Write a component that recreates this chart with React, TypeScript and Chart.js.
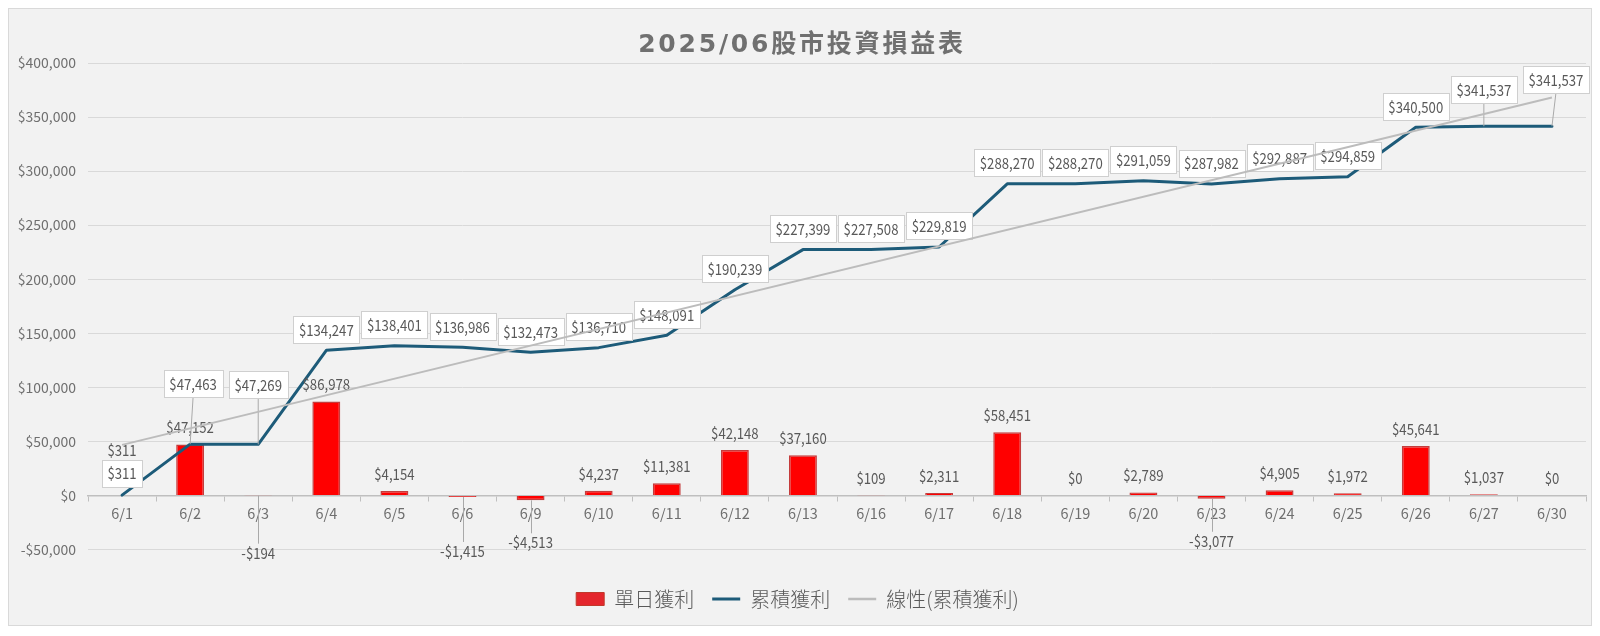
import React, { useEffect, useRef } from 'react';
import { Chart, registerables } from 'chart.js';

Chart.register(...registerables);

// --- data ---
const chartTitle = '2025/06股市投資損益表';

const dates = [
  '6/1', '6/2', '6/3', '6/4', '6/5', '6/6', '6/9', '6/10', '6/11', '6/12', '6/13',
  '6/16', '6/17', '6/18', '6/19', '6/20', '6/23', '6/24', '6/25', '6/26', '6/27', '6/30',
];

const dailyProfit = [
  311, 47152, -194, 86978, 4154, -1415, -4513, 4237, 11381, 42148, 37160,
  109, 2311, 58451, 0, 2789, -3077, 4905, 1972, 45641, 1037, 0,
];

const cumulativeProfit = [
  311, 47463, 47269, 134247, 138401, 136986, 132473, 136710, 148091, 190239, 227399,
  227508, 229819, 288270, 288270, 291059, 287982, 292887, 294859, 340500, 341537, 341537,
];

// linear trendline: value at the first and last date
const trendValues = [46800, 368100];

const seriesNames = ['單日獲利', '累積獲利', '線性(累積獲利)'];

// --- label placement (distance of label centre from the mark, px) ---
const dailyGapDefault = 17;
const dailyGapOverrides: Record<number, number> = { 0: 45, 2: 57, 5: 54, 6: 42, 16: 42 };
const dailyLeaders = [2, 5, 6, 16];

const boxGapDefault = 21;
const boxGapOverrides: Record<number, number> = { 0: 22, 1: 61, 2: 60, 20: 37, 21: 47 };
const boxShiftX: Record<number, number> = { 1: 3, 21: 4 };
const boxLeaders = [1, 2, 20, 21];

const TEXT = '#595959';
const AXIS_TEXT = '#6f6f6f';
const FONT = '"Noto Sans CJK TC", sans-serif';
const NARROW = 0.85; // the sheet's number font is narrower than Noto

const money = (v: number) => (v < 0 ? '-$' : '$') + Math.abs(v).toLocaleString('en-US');

const narrowText = (ctx: CanvasRenderingContext2D, text: string, x: number, y: number) => {
  ctx.save();
  ctx.translate(x, y);
  ctx.scale(NARROW, 1);
  ctx.fillText(text, 0, 0);
  ctx.restore();
};

const valueLabels = {
  id: 'valueLabels',
  afterDatasetDraw(chart: any, args: any) {
    if (args.index !== 1) return;
    const ctx: CanvasRenderingContext2D = chart.ctx;
    const bars = chart.getDatasetMeta(0).data;
    const points = chart.getDatasetMeta(1).data;

    ctx.save();
    ctx.font = `15.5px ${FONT}`;
    ctx.textAlign = 'center';
    ctx.textBaseline = 'middle';
    ctx.lineWidth = 1;

    // daily profit labels
    bars.forEach((bar: any, i: number) => {
      const v = dailyProfit[i];
      const gap = dailyGapOverrides[i] ?? dailyGapDefault;
      const cy = v < 0 ? bar.y + gap : bar.y - gap;
      if (dailyLeaders.includes(i)) {
        ctx.strokeStyle = '#a9a9a9';
        ctx.beginPath();
        ctx.moveTo(Math.round(bar.x) + 0.5, bar.y);
        ctx.lineTo(Math.round(bar.x) + 0.5, cy - 9);
        ctx.stroke();
      }
      ctx.fillStyle = TEXT;
      narrowText(ctx, money(v), bar.x, cy);
    });

    // cumulative labels in boxes
    points.forEach((pt: any, i: number) => {
      const text = money(cumulativeProfit[i]);
      const gap = boxGapOverrides[i] ?? boxGapDefault;
      const cx = pt.x + (boxShiftX[i] ?? 0);
      const cy = pt.y - gap;
      const w = Math.round(ctx.measureText(text).width * NARROW + 11);
      const h = 27;
      if (boxLeaders.includes(i)) {
        ctx.strokeStyle = '#a9a9a9';
        ctx.beginPath();
        ctx.moveTo(cx, cy + h / 2);
        ctx.lineTo(pt.x, pt.y);
        ctx.stroke();
      }
      const left = Math.round(cx - w / 2);
      const top = Math.round(cy - h / 2);
      ctx.fillStyle = '#ffffff';
      ctx.strokeStyle = '#cfcfcf';
      ctx.fillRect(left, top, w, h);
      ctx.strokeRect(left + 0.5, top + 0.5, w, h);
      ctx.fillStyle = TEXT;
      narrowText(ctx, text, cx, cy + 0.5);
    });
    ctx.restore();
  },
};

const sheetTitle = {
  id: 'sheetTitle',
  afterDraw(chart: any) {
    const ctx: any = chart.ctx;
    ctx.save();
    ctx.font = 'bold 25px "DejaVu Sans", "Noto Sans CJK TC", sans-serif';
    ctx.letterSpacing = '2.8px';
    ctx.fillStyle = '#707070';
    ctx.textAlign = 'center';
    ctx.textBaseline = 'middle';
    ctx.fillText(chartTitle, chart.width / 2 + 2, 36);
    ctx.restore();
  },
};

const App: React.FC = () => {
  const chartRef = useRef<HTMLCanvasElement>(null);
  const chartInstance = useRef<Chart | null>(null);

  useEffect(() => {
    if (!chartRef.current) return;
    const ctx = chartRef.current.getContext('2d');
    if (!ctx) return;

    const barFill = '#ff0000';
    const barEdge = '#c43c3c';
    const lineColor = '#1d5b79';
    const trendColor = '#bcbcbc';

    chartInstance.current = new Chart(ctx, {
      type: 'bar',
      data: {
        labels: dates,
        datasets: [
          {
            type: 'bar',
            label: seriesNames[0],
            data: dailyProfit,
            backgroundColor: barFill,
            borderColor: barEdge,
            borderWidth: 1.5,
            barPercentage: 0.41,
            categoryPercentage: 1,
            order: 3,
          },
          {
            type: 'line',
            label: seriesNames[1],
            data: cumulativeProfit,
            borderColor: lineColor,
            borderWidth: 3,
            pointRadius: 0,
            tension: 0,
            borderJoinStyle: 'round',
            borderCapStyle: 'round',
            order: 2,
          },
          {
            type: 'line',
            label: seriesNames[2],
            data: [
              { x: dates[0], y: trendValues[0] },
              { x: dates[dates.length - 1], y: trendValues[1] },
            ],
            borderColor: trendColor,
            borderWidth: 2,
            pointRadius: 0,
            order: 1,
          },
        ] as any,
      },
      options: {
        responsive: true,
        maintainAspectRatio: false,
        animation: false,
        layout: { padding: { top: 54, right: 5, bottom: 6, left: 0 } },
        plugins: {
          title: { display: false },
          tooltip: { enabled: false },
          legend: {
            position: 'bottom',
            // empty title only used as spacer between plot and legend row
            title: { display: true, text: '', font: { size: 1, lineHeight: 1 }, padding: { top: 20.5, bottom: 0 } },
            labels: {
              usePointStyle: true,
              pointStyleWidth: 28,
              boxHeight: 13,
              padding: 18,
              color: TEXT,
              font: { family: FONT, size: 20, weight: 300 },
              generateLabels: () => [
                { text: seriesNames[0], fillStyle: '#e4262c', strokeStyle: '#c0392b', lineWidth: 1, pointStyle: 'rect', datasetIndex: 0, hidden: false, fontColor: TEXT },
                { text: seriesNames[1], fillStyle: lineColor, strokeStyle: lineColor, lineWidth: 3, pointStyle: 'line', datasetIndex: 1, hidden: false, fontColor: TEXT },
                { text: seriesNames[2], fillStyle: trendColor, strokeStyle: trendColor, lineWidth: 2.5, pointStyle: 'line', datasetIndex: 2, hidden: false, fontColor: TEXT },
              ],
            },
          },
        },
        scales: {
          x: {
            type: 'category',
            position: { y: 0 } as any,
            offset: true,
            grid: { drawOnChartArea: false, drawTicks: true, tickLength: 5, color: '#bfbfbf', offset: true },
            border: { color: '#bfbfbf', width: 1.5 },
            ticks: {
              color: AXIS_TEXT,
              font: { family: FONT, size: 14.5 },
              padding: 4,
              autoSkip: false,
              maxRotation: 0,
            },
          },
          y: {
            min: -50000,
            max: 400000,
            ticks: {
              stepSize: 50000,
              color: AXIS_TEXT,
              font: { family: FONT, size: 14 },
              padding: 12,
              callback: (v: any) => money(Number(v)),
            },
            grid: { color: '#d9d9d9', drawTicks: false, lineWidth: 1 },
            border: { display: false },
            afterFit: (scale: any) => {
              scale.width = 79;
            },
          },
        },
      },
      plugins: [valueLabels, sheetTitle],
    });

    return () => {
      if (chartInstance.current) {
        chartInstance.current.destroy();
        chartInstance.current = null;
      }
    };
  }, []);

  return (
    <div
      style={{
        width: 1582,
        height: 616,
        border: '1px solid #d9d9d9',
        background: '#f2f2f2',
        position: 'relative',
      }}
    >
      <canvas ref={chartRef} />
    </div>
  );
};

export default App;
